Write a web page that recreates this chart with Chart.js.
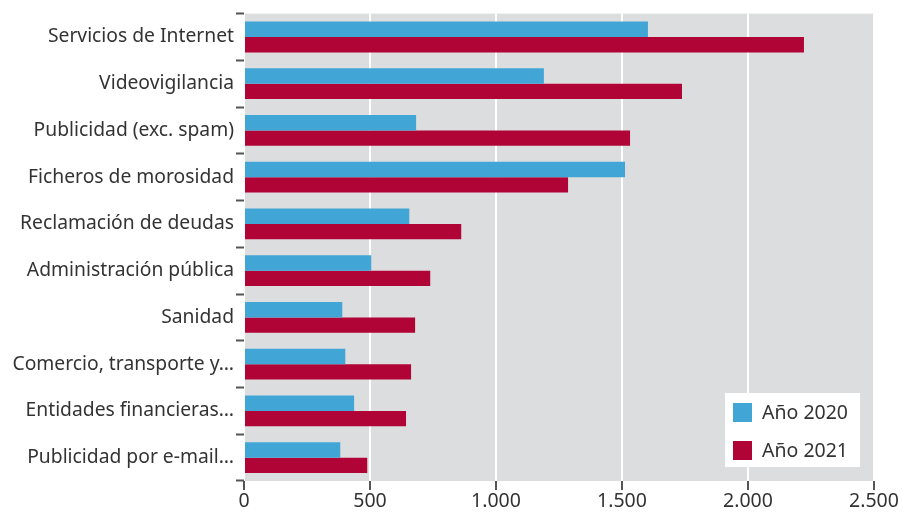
<!DOCTYPE html>
<html>
<head>
<meta charset="utf-8">
<script src="https://cdn.jsdelivr.net/npm/chart.js@4.4.1/dist/chart.umd.min.js"></script>
<style>
  html, body { margin: 0; padding: 0; background: #fff; }
  #wrap { width: 903px; height: 514px; }
</style>
</head>
<body>
<div id="wrap"><canvas id="chart" width="903" height="514"></canvas></div>
<script>
const categories = [
  'Servicios de Internet',
  'Videovigilancia',
  'Publicidad (exc. spam)',
  'Ficheros de morosidad',
  'Reclamación de deudas',
  'Administración pública',
  'Sanidad',
  'Comercio, transporte y…',
  'Entidades financieras…',
  'Publicidad por e-mail…',
];
const values2020 = [1603, 1190, 683, 1512, 656, 505, 390, 402, 437, 382];
const values2021 = [2222, 1738, 1532, 1286, 862, 739, 679, 663, 643, 489];
const xTicks = [0, 500, 1000, 1500, 2000, 2500];

const FONT = '"Noto Sans", "Open Sans", sans-serif';
const TEXT = '#333';

// grey plot background
const plotBg = {
  id: 'plotBg',
  beforeDraw(chart) {
    const { ctx, chartArea: a } = chart;
    ctx.save();
    ctx.fillStyle = '#dcdddf';
    ctx.fillRect(a.left, a.top, a.right - a.left, a.bottom - a.top);
    ctx.restore();
  },
};

// legend box in the lower right corner of the plot
const boxLegend = {
  id: 'boxLegend',
  afterDraw(chart) {
    const { ctx, chartArea: a } = chart;
    const x = a.right - 149, y = a.bottom - 88, w = 135, h = 74;
    ctx.save();
    ctx.fillStyle = '#fff';
    ctx.fillRect(x, y, w, h);
    ctx.font = '19.5px ' + FONT;
    ctx.textBaseline = 'middle';
    chart.data.datasets.forEach((ds, i) => {
      const cy = y + 19 + i * 38;
      ctx.fillStyle = ds.backgroundColor;
      ctx.fillRect(x + 8, cy - 9, 19, 19);
      ctx.fillStyle = TEXT;
      ctx.fillText(ds.label, x + 37, cy + 1);
    });
    ctx.restore();
  },
};

new Chart(document.getElementById('chart'), {
  type: 'bar',
  data: {
    labels: categories,
    datasets: [
      { label: 'Año 2020', data: values2020, backgroundColor: '#41a6d6' },
      { label: 'Año 2021', data: values2021, backgroundColor: '#b00336' },
    ],
  },
  options: {
    indexAxis: 'y',
    responsive: false,
    animation: false,
    layout: { padding: { top: 13, right: 29, left: 0, bottom: 0 } },
    datasets: { bar: { categoryPercentage: 0.66, barPercentage: 1.0 } },
    plugins: { legend: { display: false }, tooltip: { enabled: false } },
    scales: {
      x: {
        min: 0,
        max: 2500,
        afterBuildTicks: (s) => { s.ticks = xTicks.map((v) => ({ value: v })); },
        afterFit: (s) => { s.height = 33; },
        border: { display: false },
        grid: { color: '#ffffff', lineWidth: 2, tickColor: '#555', tickWidth: 2, tickLength: 9 },
        ticks: {
          color: TEXT,
          padding: 0,
          font: { family: FONT, size: 19.5 },
          callback: (v) => Number(v).toLocaleString('de-DE'),
        },
      },
      y: {
        afterFit: (s) => { s.width = 244; },
        border: { display: false },
        grid: { drawOnChartArea: false, tickColor: '#555', tickWidth: 2, tickLength: 8, offset: true },
        ticks: { color: TEXT, padding: 2, font: { family: FONT, size: 19.3 } },
      },
    },
  },
  plugins: [plotBg, boxLegend],
});
</script>
</body>
</html>
